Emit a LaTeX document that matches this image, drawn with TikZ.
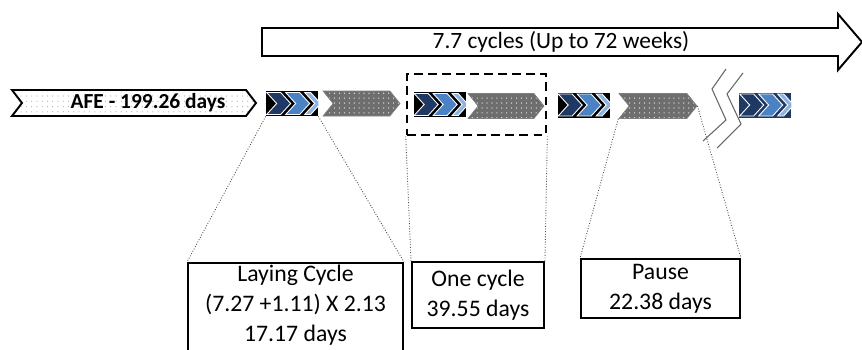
\documentclass[tikz,border=0pt]{standalone}
\usepackage{fontspec}
\setmainfont{Carlito}
\usetikzlibrary{shapes.symbols,patterns.meta}

\definecolor{navy}{HTML}{1F3864}
\definecolor{midblue}{HTML}{4A82C4}
\definecolor{lightblue}{HTML}{8DB3E2}
\definecolor{stonegray}{HTML}{6E6E6E}

\tikzset{
  icon/.style={rectangle, fill=black, minimum width=1.04cm, minimum height=0.5cm, inner sep=0pt},
  rest/.style={signal, signal from=west, signal to=east, signal pointer angle=102,
    draw=gray, line width=0.4pt, preaction={fill=stonegray},
    pattern={Dots[distance=2.8pt, radius=0.35pt]}, pattern color=white,
    minimum height=0.5cm, inner sep=0pt},
  infobox/.style={draw, line width=1.1pt, align=center, inner sep=0pt,
    font=\fontsize{13.5}{17}\selectfont},
  boxtext/.style={align=center, inner sep=0pt, font=\fontsize{13.5}{17}\selectfont},
  zoomline/.style={densely dotted, gray!60!black, line width=0.5pt},
  breakline/.style={gray!80!black, line width=0.6pt},
}

% laying cycle icon: three chevrons on a dark tile
\newcommand{\layicon}[3]{%
  \node[icon, fill=#3] (#1) at (#2) {};
  \begin{scope}
    \clip (#1.south west) rectangle (#1.north east);
    \begin{scope}[shift={(#1.west)}]
      \foreach \a/\w/\c in {39/6/lightblue, 20/14/midblue, 1/14/navy}
        \filldraw[fill=\c, draw=white, line width=0.5pt] (\a,-11) -- ++(\w,0) -- ++(10,11)
          -- ++(-10,11) -- ++(-\w,0) -- ++(10,-11) -- cycle;
    \end{scope}
  \end{scope}}

\begin{document}
\begin{tikzpicture}[x=0.02cm, y=-0.02cm]
 \useasboundingbox (0,0) rectangle (862,349);

 % long arrow over all cycles
 \draw[line width=1.1pt, fill=white] (262,28) -- (838,28) -- (838,14) -- (862,42)
   -- (838,70) -- (838,56) -- (262,56) -- cycle;
 \node[font=\fontsize{13.3}{16}\selectfont] (cycles) at (561,42) {7.7 cycles (Up to 72 weeks)};

 % AFE period
 \node[signal, signal from=west, signal to=east, signal pointer angle=105, draw,
   line width=1.1pt, preaction={fill=white}, pattern={Dots[distance=3pt, radius=0.35pt]},
   pattern color=gray!60, minimum width=4.88cm, minimum height=0.52cm, inner sep=0pt] (afe) at (134,103) {};
 \node[font=\bfseries\fontsize{12.2}{14}\selectfont] (afetext) at (148,103) {AFE - 199.26 days};

 % laying cycles and pauses
 \layicon{lay1}{292,103.5}{black}
 \node[rest, minimum width=1.54cm] (rest1) at (361.5,103.5) {};
 \layicon{lay2}{439.5,104.5}{black}
 \node[rest, minimum width=1.52cm] (rest2) at (506,106) {};
 \layicon{lay3}{583.5,105}{black}
 \node[rest, minimum width=1.56cm] (rest3) at (658,106) {};
 \layicon{lay4}{765,105}{navy}

 % one cycle frame
 \node[draw, line width=1.5pt, dash pattern=on 5pt off 3pt, minimum width=2.78cm,
   minimum height=1.22cm, inner sep=0pt] (onecyc) at (476.5,104.5) {};

 % break in the time line
 \draw[breakline] (726,69) -- (712,89) -- (726,120) -- (703,141);
 \draw[breakline] (743,73) -- (727,94) -- (741,124) -- (717,148);

 % detail boxes
 \node[infobox, anchor=north, minimum width=4.3cm, minimum height=2.2cm] (laybox) at (295.5,262) {};
 \node[boxtext, anchor=north] (laytext) at ([yshift=-0.05cm]laybox.north)
   {Laying Cycle\\(7.27 +1.11) X 2.13\\17.17 days};
 \node[infobox, minimum width=2.64cm, minimum height=1.32cm] (cycbox) at (478,295)
   {One cycle\\39.55 days};
 \node[infobox, minimum width=3.18cm, minimum height=1.18cm] (pausebox) at (660.5,288.5)
   {Pause\\22.38 days};

 % zoom lines
 \draw[zoomline] (lay1.south west) -- (laybox.north west);
 \draw[zoomline] (lay1.south east) -- (laybox.north east);
 \draw[zoomline] (onecyc.south west) -- (cycbox.north west);
 \draw[zoomline] (onecyc.south east) -- (cycbox.north east);
 \draw[zoomline] (rest3.south west) -- (pausebox.north west);
 \draw[zoomline] (rest3.east) -- (pausebox.north east);
\end{tikzpicture}
\end{document}
